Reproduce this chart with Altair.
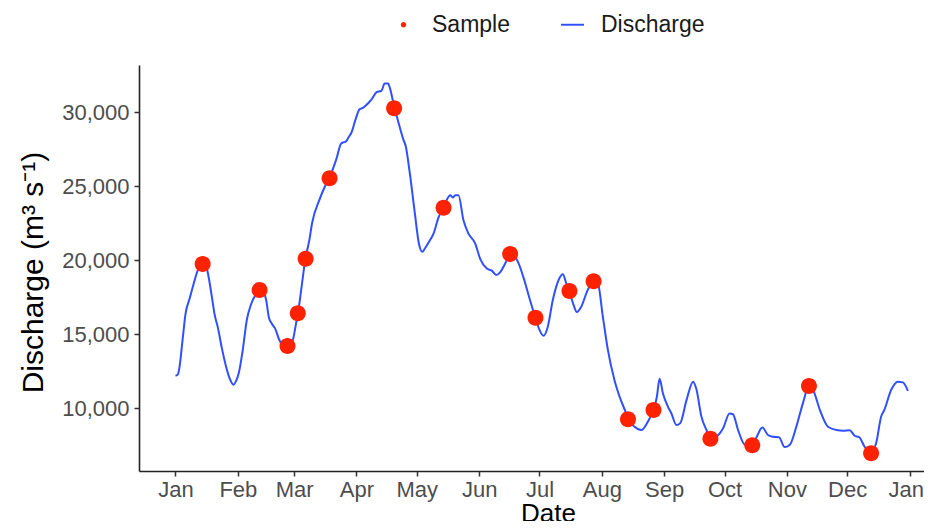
import altair as alt
import pandas as pd

# Discharge line: day offset from 1 Jan and discharge (m3/s)
line_day = [0, 1.2, 2, 3.5, 5, 7, 9, 11, 13, 14.5, 16, 18, 19.5, 21, 23, 25, 27, 28.8, 30, 31.5,
            33.4, 35.5, 37.5, 40, 42, 43.5, 45.1, 46.5, 48, 49.5, 51.7, 54.2, 56.5, 58.3, 59.9, 61,
            62.5, 64.6, 66.6, 67.9, 71.6, 74, 76.6, 79.9, 82.4, 84.9, 86, 87.4, 89.5, 91.5, 93.2,
            95.7, 97.4, 99.9, 102.4, 104, 105.7, 106.7, 108.7, 110.7, 113.2, 114.5, 116.5, 119, 121,
            122.7, 124, 126.3, 128.3, 130.8, 133.3, 136.6, 137.9, 139.1, 140.7, 143.2, 145.7, 149,
            151.5, 154.8, 157.3, 159.5, 161.5, 164, 166.4, 169.7, 172.9, 176.3, 179, 181, 183, 185.1,
            187.6, 190.6, 192.6, 194.3, 195.9, 197.9, 199.6, 201.7, 205, 207.9, 210, 212.5, 215,
            218.3, 220.8, 224.1, 225, 228.3, 231.6, 234.9, 237.7, 239.4, 240.7, 242.4, 244.9, 246.6,
            249.1, 251, 254.1, 257.4, 259, 261.5, 264, 266, 269, 272.3, 275.5, 277.2, 279.7, 283,
            286.8, 289.1, 291.8, 294.6, 297.1, 300.1, 302.9, 305.4, 308.7, 312, 315, 317, 320.4,
            324.5, 328.7, 332, 335.2, 337.7, 340.1, 342.6, 345.9, 348.4, 350.9, 352.5, 355.9, 359.2,
            361.7, 364.2]
line_q = [12200, 12300, 12800, 14600, 16400, 17400, 18400, 19300, 19800, 19800, 19200, 17600,
          16300, 15500, 14100, 12900, 12000, 11600, 11800, 12400, 13900, 16000, 17000, 17700,
          18000, 17900, 17300, 16100, 15700, 15400, 14600, 14200, 14300, 14600, 15700, 16500,
          18000, 20100, 21400, 22500, 24100, 24900, 25600, 26800, 27900, 28050, 28300, 28600,
          29500, 30200, 30300, 30600, 30850, 31350, 31450, 31950, 31950, 31600, 30400, 29400,
          28200, 27700, 25900, 23200, 21150, 20580, 20800, 21300, 21800, 22900, 23600, 24400,
          24250, 24400, 24400, 22700, 21800, 21150, 20100, 19450, 19300, 19000, 19200, 19800,
          20400, 20050, 18900, 17300, 16100, 15300, 14900, 15500, 17300, 18700, 19050, 18450,
          17900, 17000, 16500, 16850, 18000, 18600, 18450, 16200, 13950, 11900, 10800, 9650, 9300,
          8750, 8530, 9100, 9900, 10800, 12000, 11000, 10100, 9650, 8870, 9000, 10550, 11800,
          11300, 9450, 8550, 8000, 8100, 8650, 9650, 9600, 8550, 7550, 7450, 8100, 8700, 8200,
          8080, 8050, 7380, 7520, 8750, 10350, 11500, 11250, 9900, 8750, 8530, 8480, 8520, 8150,
          8030, 7420, 6950, 7650, 9450, 9900, 11250, 11800, 11750, 11180]

# Samples
sample_day = [13.5, 41.8, 55.7, 60.8, 64.7, 76.6, 108.7, 133.3, 166.4, 179, 195.9, 207.9,
              225, 237.7, 266, 286.8, 315, 345.9]
sample_q = [19750, 17990, 14210, 16420, 20100, 25540, 30270, 23550, 20430, 16120, 17930,
            18580, 9260, 9890, 7950, 7500, 11510, 6960]

series_names = ["Sample", "Discharge"]
series_colors = ["#FF2200", "#3050FF"]
dot_path = "M-0.235,0A0.235,0.235 0 1,0 0.235,0A0.235,0.235 0 1,0 -0.235,0Z"
bar_path = "M-1,-0.085H1V0.085H-1Z"

base = pd.Timestamp("2019-01-01")
line_df = pd.DataFrame({"date": base + pd.to_timedelta(line_day, unit="D"), "q": line_q})
sample_df = pd.DataFrame({"date": base + pd.to_timedelta(sample_day, unit="D"),
                          "q": sample_q, "series": ["Sample"] * len(sample_q)})

FONT = "Liberation Sans"

x_enc = alt.X(
    "date:T",
    scale=alt.Scale(domain=[alt.DateTime(year=2018, month=12, date=13, hours=20, minutes=24),
                            alt.DateTime(year=2020, month=1, date=8, hours=4, minutes=48)]),
    axis=alt.Axis(format="%b", tickCount={"interval": "month", "step": 1}, title="Date",
                  labelFlush=20, labelFlushOffset=14, labelPadding=3,
                  titleX=409, titleY=50,
                  titleAlign="center", titleBaseline="alphabetic", titleAnchor="start",
                  titleFontSize=26),
)
y_enc = alt.Y(
    "q:Q",
    scale=alt.Scale(domain=[5764, 33196], nice=False, zero=False),
    axis=alt.Axis(values=[10000, 15000, 20000, 25000, 30000], format=",.0f",
                  title="Discharge (m³ s⁻¹)", labelPadding=5,
                  titleAngle=270, titleX=-97, titleY=207, titleAlign="center",
                  titleBaseline="alphabetic", titleFontSize=30, titleAnchor="start"),
)

line = alt.Chart(line_df).mark_line(color=series_colors[1], strokeWidth=2,
                                    interpolate="monotone").encode(x=x_enc, y=y_enc)

legend_cfg = dict(title=None, orient="none", direction="horizontal",
                  legendX=253, legendY=-52, columnPadding=51,
                  labelOffset=17, symbolSize=529, symbolStrokeWidth=0,
                  labelFontSize=23, labelColor="#1A1A1A", labelFont=FONT)

points = alt.Chart(sample_df).mark_point(filled=True, opacity=1, size=4634).encode(
    x=x_enc,
    y=y_enc,
    color=alt.Color("series:N", scale=alt.Scale(domain=series_names, range=series_colors),
                    legend=alt.Legend(**legend_cfg)),
    shape=alt.Shape("series:N", scale=alt.Scale(domain=series_names, range=[dot_path, bar_path]),
                    legend=alt.Legend(**legend_cfg)),
)

chart = (line + points).properties(
    width=785, height=406,
    padding={"left": 131, "top": 57, "right": 0, "bottom": 50},
    autosize=alt.AutoSizeParams(type="none"),
).configure_view(stroke=None).configure_axis(
    grid=False,
    domainColor="#222222", domainWidth=1.6,
    tickColor="#333333", tickWidth=1.5, tickSize=5,
    labelFont=FONT, labelFontSize=22, labelColor="#4D4D4D",
    titleFont=FONT, titleFontSize=28, titleColor="#000000", titleFontWeight="normal",
)

chart.save("out.html", embed_options={"renderer": "svg", "actions": False})
